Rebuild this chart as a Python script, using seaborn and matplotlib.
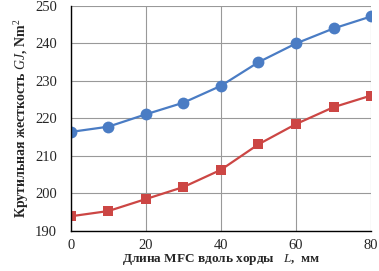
import numpy as np
import pandas as pd
import matplotlib
matplotlib.use("Agg")
import matplotlib.pyplot as plt
import seaborn as sns

# data
length_mm = [0, 10, 20, 30, 40, 50, 60, 70, 80]
gj_upper = [216.4, 217.8, 221.1, 224.2, 228.7, 235.0, 240.0, 244.0, 247.2]
gj_lower = [193.9, 195.3, 198.5, 201.7, 206.3, 213.1, 218.5, 223.0, 226.1]

x_ticks = [0, 20, 40, 60, 80]
y_ticks = [190, 200, 210, 220, 230, 240, 250]

sns.set_theme(style="whitegrid")
plt.rcParams["font.family"] = ["Liberation Serif", "DejaVu Serif"]
plt.rcParams["mathtext.fontset"] = "custom"
plt.rcParams["mathtext.it"] = "Liberation Serif:italic"
plt.rcParams["mathtext.rm"] = "Liberation Serif"

df = pd.DataFrame({"L": length_mm, "upper": gj_upper, "lower": gj_lower})

fig = plt.figure(figsize=(3.79, 2.71), dpi=100)
ax = fig.add_axes([0.187, 0.148, 0.792, 0.830])

sns.lineplot(data=df, x="L", y="upper", ax=ax, color="#4a7cc4", lw=1.6,
             marker="o", markersize=8.5, markeredgewidth=0)
sns.lineplot(data=df, x="L", y="lower", ax=ax, color="#cc4644", lw=1.6,
             marker="s", markersize=6.5, markeredgewidth=0)

ax.set_xlim(0, 80)
ax.set_ylim(190, 250)
ax.set_xticks(x_ticks)
ax.set_yticks(y_ticks)
ax.grid(True, color="#999999", lw=0.8)
ax.set_facecolor("white")
for side in ["top", "right"]:
    ax.spines[side].set_visible(False)
for side in ["left", "bottom"]:
    ax.spines[side].set_color("black")
    ax.spines[side].set_linewidth(1.0)
ax.tick_params(axis="x", direction="out", length=3, color="black", pad=3, labelsize=10.5)
ax.tick_params(axis="y", length=0, pad=10, labelsize=10.5)

ax.set_xlabel("Длина MFC вдоль хорды   $L$,  мм", fontsize=9.5, fontweight="bold", labelpad=0)
ax.set_ylabel("Крутильная жесткость $GJ$, Nm$^2$", fontsize=10, fontweight="bold", labelpad=3)

fig.savefig("out.png", dpi=100)
